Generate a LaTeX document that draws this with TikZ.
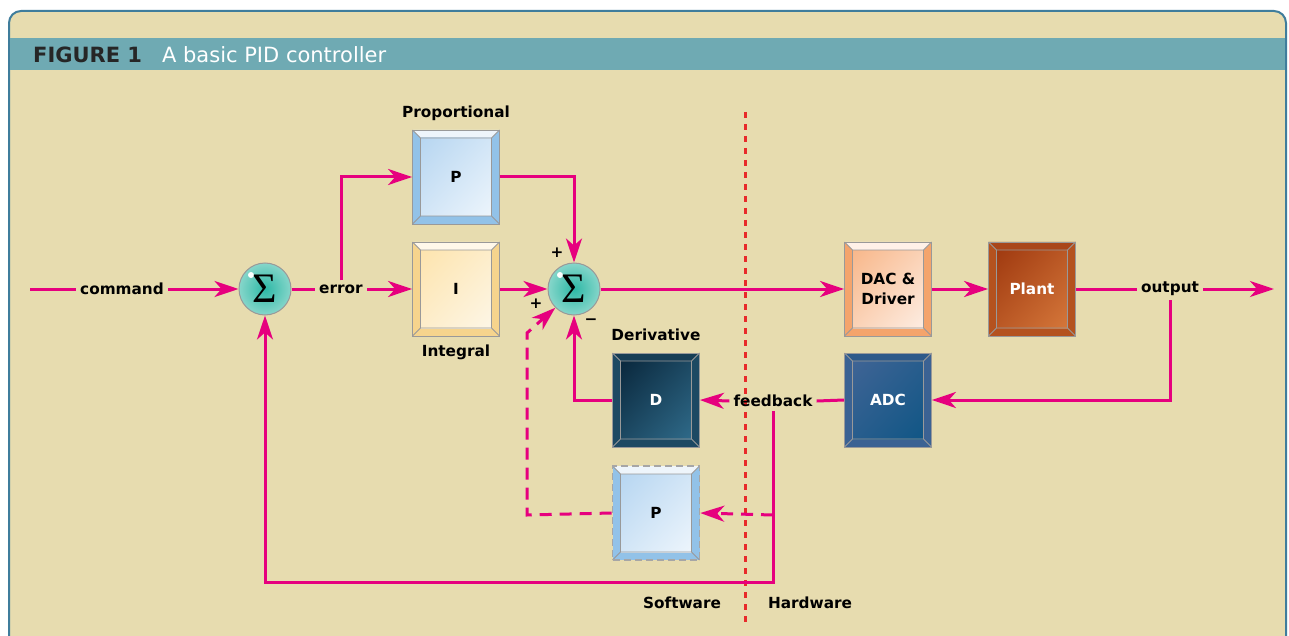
\documentclass[tikz,border=0pt]{standalone}
\usepackage{fontspec}
\setmainfont{DejaVu Sans}
\newfontfamily\sigfont{Liberation Serif}
\usetikzlibrary{arrows.meta,calc,shadings}
\definecolor{bg}{HTML}{E7DCAF}
\definecolor{band}{HTML}{6FAAB3}
\definecolor{framec}{HTML}{3F7D9C}
\definecolor{wirec}{HTML}{E6007E}
\definecolor{dotc}{HTML}{E82A2A}
\definecolor{pside}{HTML}{92C2E8}
\definecolor{ptop}{HTML}{EEF5FB}
\definecolor{pin1}{HTML}{B7D6F1}
\definecolor{pin2}{HTML}{EDF5FC}
\definecolor{iside}{HTML}{F6D48D}
\definecolor{itop}{HTML}{FFF8EA}
\definecolor{iin1}{HTML}{FDE4AE}
\definecolor{iin2}{HTML}{FDF6E6}
\definecolor{dside}{HTML}{F4A46C}
\definecolor{dtop}{HTML}{FFF1E8}
\definecolor{din1}{HTML}{F8B78A}
\definecolor{din2}{HTML}{FDEDE2}
\definecolor{plside}{HTML}{B4521F}
\definecolor{pltop}{HTML}{A9461A}
\definecolor{plin1}{HTML}{A03A10}
\definecolor{plin2}{HTML}{D5773A}
\definecolor{aside}{HTML}{3B6293}
\definecolor{atop}{HTML}{2E5A8A}
\definecolor{ain1}{HTML}{3F6495}
\definecolor{ain2}{HTML}{105685}
\definecolor{deside}{HTML}{1D4963}
\definecolor{detop}{HTML}{163D55}
\definecolor{dein1}{HTML}{0A283D}
\definecolor{dein2}{HTML}{2F6A89}
\definecolor{sumc1}{HTML}{2DB8A6}
\definecolor{sumc2}{HTML}{86D6CA}
\tikzset{
  wire/.style={draw=wirec, line width=3pt},
  arr/.style={wire, -{Stealth[length=24pt,width=16pt,inset=7pt]}},
  lbl/.style={font=\fontsize{15.3}{18}\selectfont\bfseries, inner sep=4pt, text=black},
  sumnode/.style={circle, minimum size=52pt, inner sep=0pt, draw=gray!80, line width=1pt},
  boxnode/.style={minimum width=87pt, minimum height=94pt, inner sep=0pt,
     font=\fontsize{15.3}{20}\selectfont\bfseries, align=center},
}
% #1 name #2 x #3 y #4 side #5 top #6 in1 #7 in2 #8 text #9 node opts
\newcommand{\bevbox}[9]{%
  \begin{scope}[shift={(#2,#3)}]
    \fill[#4] (-43.5,-47) rectangle (43.5,47);
    \fill[#5] (-43.5,-47) -- (43.5,-47) -- (35.5,-39) -- (-35.5,-39) -- cycle;
    \shade[upper left=#6, lower right=#7, upper right=#6!50!#7, lower left=#6!50!#7]
      (-35.5,-39) rectangle (35.5,39);
    \draw[gray!80, line width=0.8pt] (-35.5,-39) rectangle (35.5,39)
      (-43.5,-47) -- (-35.5,-39) (43.5,-47) -- (35.5,-39)
      (-43.5,47) -- (-35.5,39) (43.5,47) -- (35.5,39);
  \end{scope}
  \node[boxnode, #9] (#1) at (#2,#3) {#8};
}
\newcommand{\sumball}[3]{%
  \shade[inner color=sumc1, outer color=sumc2] (#2,#3) circle (26);
  \fill[white] ($(#2,#3)+(-14,-14)$) circle (3);
  \node[sumnode] (#1) at (#2,#3) {\sigfont\fontsize{42}{42}\selectfont Σ};
}
\begin{document}
\begin{tikzpicture}[x=1pt,y=-1pt]
\useasboundingbox (0,0) rectangle (1289,636);
\fill[white] (0,0) rectangle (1289,636);
\draw[framec, line width=2pt, fill=bg, rounded corners=12pt] (9,660) -- (9,11) -- (1286,11) -- (1286,660);
\fill[band] (10,38) rectangle (1285,70);
\node[anchor=west, inner sep=0pt, font=\fontsize{21}{24}\selectfont] (title) at (33,55)
  {\textcolor{black!85}{\bfseries FIGURE 1}\hspace{20pt}\textcolor{white}{A basic PID controller}};

% hardware/software divider
\draw[dotc, line width=3pt, dash pattern=on 6pt off 6pt] (745,112) -- (745,622);

% blocks
\bevbox{P}{456}{177}{pside}{ptop}{pin1}{pin2}{P}{draw=gray!80, line width=0.8pt, text=black}
\bevbox{I}{456}{289}{iside}{itop}{iin1}{iin2}{I}{draw=gray!80, line width=0.8pt, text=black}
\bevbox{DAC}{888}{289}{dside}{dtop}{din1}{din2}{DAC \&\\Driver}{draw=gray!80, line width=0.8pt, text=black}
\bevbox{Plant}{1032}{289}{plside}{pltop}{plin1}{plin2}{Plant}{draw=gray!80, line width=0.8pt, text=white}
\bevbox{ADC}{888}{400}{aside}{atop}{ain1}{ain2}{ADC}{draw=gray!80, line width=0.8pt, text=white}
\bevbox{D}{656}{400}{deside}{detop}{dein1}{dein2}{D}{draw=gray!80, line width=0.8pt, text=white}
\bevbox{Pd}{656}{513}{pside}{ptop}{pin1}{pin2}{P}{draw=gray!70, line width=1.6pt, dash pattern=on 7pt off 4pt, text=black}

\sumball{s1}{265}{289}
\sumball{s2}{574}{289}

% labels
\node[lbl] (cmd) at (122,289) {command};
\node[lbl] (err) at (341,289) {error};
\node[lbl] (out) at (1170,289) {output};
\node[lbl] (fb) at (773,401) {feedback};
\node[lbl] (lprop) at (456,113) {Proportional};
\node[lbl] (lint) at (456,352) {Integral};
\node[lbl] (lder) at (656,335) {Derivative};
\node[lbl] (lsw) at (682,603) {Software};
\node[lbl] (lhw) at (810,603) {Hardware};
\node[lbl] (plus1) at (557,253) {+};
\node[lbl] (plus2) at (536,304) {+};
\node[lbl] (minus) at (591,322) {−};

% coordinates
\coordinate (cmdstart) at (30,289);
\coordinate (outend) at (1274,289);
\coordinate (bot) at (500,582);
\coordinate (dtap) at (773,515);
\coordinate (dcorner) at (527,515);
\coordinate (dup) at (527,333);

% connectors
\draw[wire] (cmdstart) -- (cmd.west);
\draw[arr] (cmd.east) -- (s1.west);
\draw[wire] (s1.east) -- (err.west);
\draw[arr] (err.east) -- (I.west);
\draw[arr] (err.north) |- (P.west);
\draw[arr] (P.east) -| (s2.north);
\draw[arr] (I.east) -- (s2.west);
\draw[arr] (s2.east) -- (DAC.west);
\draw[arr] (DAC.east) -- (Plant.west);
\draw[wire] (Plant.east) -- (out.west);
\draw[arr] (out.east) -- (outend);
\draw[arr] (out.south) |- (ADC.east);
\draw[wire] (ADC.west) -- (fb.east);
\draw[arr] (fb.west) -- (D.east);
\draw[arr] (D.west) -| (s2.south);
\draw[arr] (fb.south) |- (bot) -| (s1.south);
\draw[arr, dash pattern=on 12pt off 8pt] (dtap) -- (Pd.east);
\draw[arr, dash pattern=on 12pt off 8pt] (Pd.west) -- (dcorner) -- (dup) -- (s2.south west);
\end{tikzpicture}
\end{document}
